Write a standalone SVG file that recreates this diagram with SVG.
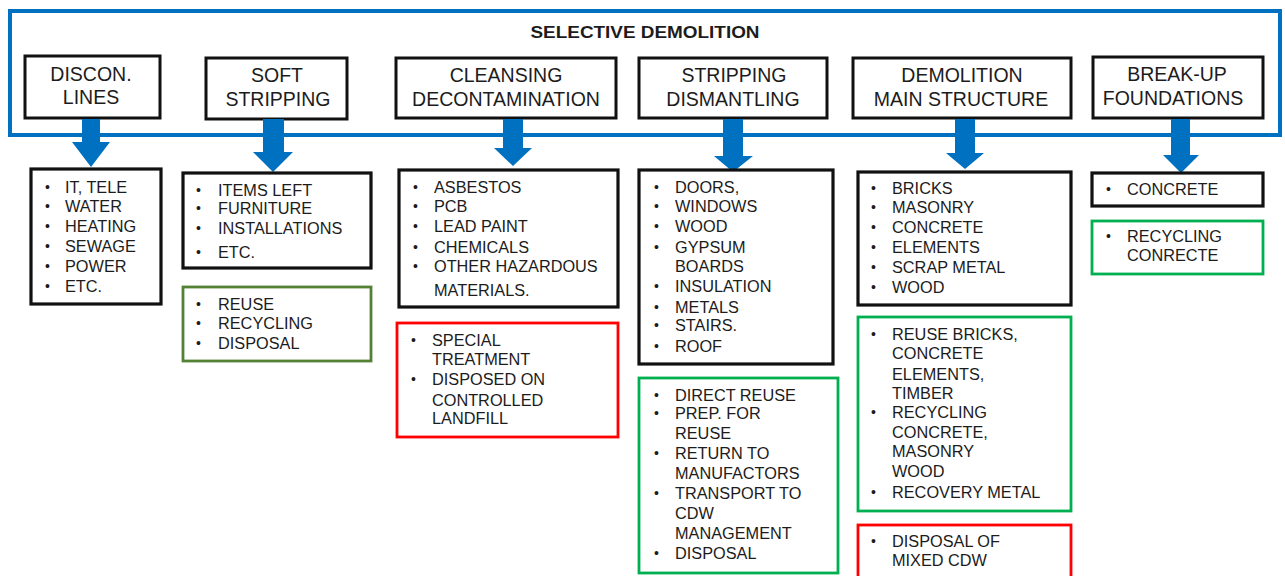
<svg xmlns="http://www.w3.org/2000/svg" width="1285" height="576" viewBox="0 0 1285 576">
<style>
text{font-family:"Liberation Sans",Arial,sans-serif;fill:#1c1c1c}
.title{font-size:17px;font-weight:bold;text-anchor:middle}
.hd{font-size:19.5px;text-anchor:middle}
.li{font-size:16.3px}
.bu{font-size:14px}
.hbox{fill:#fff;stroke:#111;stroke-width:3}
.blk{fill:#fff;stroke:#111;stroke-width:3.2}
.grn{fill:#fff;stroke:#00B050;stroke-width:2.8}
.olv{fill:#fff;stroke:#548235;stroke-width:2.8}
.red{fill:#fff;stroke:#FF0000;stroke-width:2.8}
.arr{fill:#0070C0}
</style>
<rect width="1285" height="576" fill="#fff"/>
<g id="frame">
<rect x="10" y="11" width="1270" height="124" fill="none" stroke="#0070C0" stroke-width="4"/>
<text class="title" x="645" y="38" textLength="229" lengthAdjust="spacingAndGlyphs">SELECTIVE DEMOLITION</text>
</g>
<g id="h1"><rect class="hbox" x="25" y="56" width="135" height="62"/><text class="hd" x="91" y="81">DISCON.</text><text class="hd" x="91" y="104">LINES</text></g>
<g id="h2"><rect class="hbox" x="206" y="58" width="141" height="61"/><text class="hd" x="277" y="82">SOFT</text><text class="hd" x="278" y="106">STRIPPING</text></g>
<g id="h3"><rect class="hbox" x="396" y="58" width="220" height="60"/><text class="hd" x="506" y="82">CLEANSING</text><text class="hd" x="506" y="106">DECONTAMINATION</text></g>
<g id="h4"><rect class="hbox" x="639" y="58" width="188" height="60"/><text class="hd" x="734" y="82">STRIPPING</text><text class="hd" x="733" y="106">DISMANTLING</text></g>
<g id="h5"><rect class="hbox" x="853" y="58" width="218" height="60"/><text class="hd" x="962" y="82">DEMOLITION</text><text class="hd" x="961" y="106">MAIN STRUCTURE</text></g>
<g id="h6"><rect class="hbox" x="1093" y="57" width="170" height="61"/><text class="hd" x="1177" y="81">BREAK-UP</text><text class="hd" x="1173" y="105">FOUNDATIONS</text></g>
<g id="connectors">
<polygon class="arr" points="82,119 100,119 100,142 110,142 91,167 72,142 82,142"/>
<polygon class="arr" points="263,119 284,119 284,152 293,152 273,172 253,152 263,152"/>
<polygon class="arr" points="503,119 523,119 523,148 532,148 513,166 494,148 503,148"/>
<polygon class="arr" points="723,119 743,119 743,156 753,156 733,172 714,156 723,156"/>
<polygon class="arr" points="955,119 975,119 975,153 984,153 965,169 946,153 955,153"/>
<polygon class="arr" points="1171,119 1190,119 1190,155 1199,155 1181,173 1163,155 1171,155"/>
</g>
<g id="l1"><rect class="blk" x="31" y="169" width="130" height="135"/>
<g class="bu"><text class="bu" x="45" y="192">•</text><text class="bu" x="45" y="211">•</text><text class="bu" x="45" y="231">•</text><text class="bu" x="45" y="251">•</text><text class="bu" x="45" y="271">•</text><text class="bu" x="45" y="291">•</text></g>
<text class="li" x="65" y="193">IT, TELE</text><text class="li" x="65" y="212">WATER</text><text class="li" x="65" y="232">HEATING</text><text class="li" x="65" y="252">SEWAGE</text><text class="li" x="65" y="272">POWER</text><text class="li" x="65" y="292">ETC.</text></g>
<g id="l2"><rect class="blk" x="183" y="173" width="188" height="95"/>
<text class="bu" x="196" y="195">•</text><text class="bu" x="196" y="213">•</text><text class="bu" x="196" y="233">•</text><text class="bu" x="196" y="257">•</text>
<text class="li" x="218" y="196">ITEMS LEFT</text><text class="li" x="218" y="214">FURNITURE</text><text class="li" x="218" y="234">INSTALLATIONS</text><text class="li" x="218" y="258">ETC.</text></g>
<g id="r2"><rect class="olv" x="183" y="287" width="188" height="74"/>
<text class="bu" x="196" y="309">•</text><text class="bu" x="196" y="328">•</text><text class="bu" x="196" y="348">•</text>
<text class="li" x="218" y="310">REUSE</text><text class="li" x="218" y="329">RECYCLING</text><text class="li" x="218" y="349">DISPOSAL</text></g>
<g id="l3"><rect class="blk" x="399" y="170" width="219" height="137"/>
<text class="bu" x="413" y="192">•</text><text class="bu" x="413" y="211">•</text><text class="bu" x="413" y="231">•</text><text class="bu" x="413" y="252">•</text><text class="bu" x="413" y="271">•</text>
<text class="li" x="434" y="193">ASBESTOS</text><text class="li" x="434" y="212">PCB</text><text class="li" x="434" y="232">LEAD PAINT</text><text class="li" x="434" y="253">CHEMICALS</text><text class="li" x="434" y="272">OTHER HAZARDOUS</text><text class="li" x="434" y="296">MATERIALS.</text></g>
<g id="r3"><rect class="red" x="397" y="323" width="221" height="114"/>
<text class="bu" x="411" y="345">•</text><text class="bu" x="411" y="384">•</text>
<text class="li" x="432" y="346">SPECIAL</text><text class="li" x="432" y="365">TREATMENT</text><text class="li" x="432" y="385">DISPOSED ON</text><text class="li" x="432" y="406">CONTROLLED</text><text class="li" x="432" y="424">LANDFILL</text></g>
<g id="l4"><rect class="blk" x="639" y="170" width="194" height="194"/>
<text class="bu" x="654" y="192">•</text><text class="bu" x="654" y="211">•</text><text class="bu" x="654" y="231">•</text><text class="bu" x="654" y="252">•</text><text class="bu" x="654" y="291">•</text><text class="bu" x="654" y="312">•</text><text class="bu" x="654" y="330">•</text><text class="bu" x="654" y="351">•</text>
<text class="li" x="675" y="193">DOORS,</text><text class="li" x="675" y="212">WINDOWS</text><text class="li" x="675" y="232">WOOD</text><text class="li" x="675" y="253">GYPSUM</text><text class="li" x="675" y="272">BOARDS</text><text class="li" x="675" y="292">INSULATION</text><text class="li" x="675" y="313">METALS</text><text class="li" x="675" y="331">STAIRS.</text><text class="li" x="675" y="352">ROOF</text></g>
<g id="r4"><rect class="grn" x="639" y="378" width="199" height="195"/>
<text class="bu" x="654" y="400">•</text><text class="bu" x="654" y="418">•</text><text class="bu" x="654" y="458">•</text><text class="bu" x="654" y="498">•</text><text class="bu" x="654" y="558">•</text>
<text class="li" x="675" y="401">DIRECT REUSE</text><text class="li" x="675" y="419">PREP. FOR</text><text class="li" x="675" y="439">REUSE</text><text class="li" x="675" y="459">RETURN TO</text><text class="li" x="675" y="479">MANUFACTORS</text><text class="li" x="675" y="499">TRANSPORT TO</text><text class="li" x="675" y="519">CDW</text><text class="li" x="675" y="539">MANAGEMENT</text><text class="li" x="675" y="559">DISPOSAL</text></g>
<g id="l5"><rect class="blk" x="858" y="172" width="213" height="133"/>
<text class="bu" x="871" y="193">•</text><text class="bu" x="871" y="212">•</text><text class="bu" x="871" y="232">•</text><text class="bu" x="871" y="252">•</text><text class="bu" x="871" y="272">•</text><text class="bu" x="871" y="292">•</text>
<text class="li" x="892" y="194">BRICKS</text><text class="li" x="892" y="213">MASONRY</text><text class="li" x="892" y="233">CONCRETE</text><text class="li" x="892" y="253">ELEMENTS</text><text class="li" x="892" y="273">SCRAP METAL</text><text class="li" x="892" y="293">WOOD</text></g>
<g id="r5"><rect class="grn" x="858" y="317" width="213" height="194"/>
<text class="bu" x="871" y="339">•</text><text class="bu" x="871" y="417">•</text><text class="bu" x="871" y="497">•</text>
<text class="li" x="892" y="340">REUSE BRICKS,</text><text class="li" x="892" y="359">CONCRETE</text><text class="li" x="892" y="380">ELEMENTS,</text><text class="li" x="892" y="399">TIMBER</text><text class="li" x="892" y="418">RECYCLING</text><text class="li" x="892" y="438">CONCRETE,</text><text class="li" x="892" y="457">MASONRY</text><text class="li" x="892" y="477">WOOD</text><text class="li" x="892" y="498">RECOVERY METAL</text></g>
<g id="d5"><rect class="red" x="858" y="525" width="213" height="70"/>
<text class="bu" x="871" y="546">•</text>
<text class="li" x="892" y="547">DISPOSAL OF</text><text class="li" x="892" y="566">MIXED CDW</text></g>
<g id="l6"><rect class="blk" x="1092" y="173" width="171" height="33"/>
<text class="bu" x="1106" y="194">•</text><text class="li" x="1127" y="195">CONCRETE</text></g>
<g id="r6"><rect class="grn" x="1092" y="221" width="171" height="53"/>
<text class="bu" x="1106" y="241">•</text><text class="li" x="1127" y="242">RECYCLING</text><text class="li" x="1127" y="261">CONRECTE</text></g>
</svg>
